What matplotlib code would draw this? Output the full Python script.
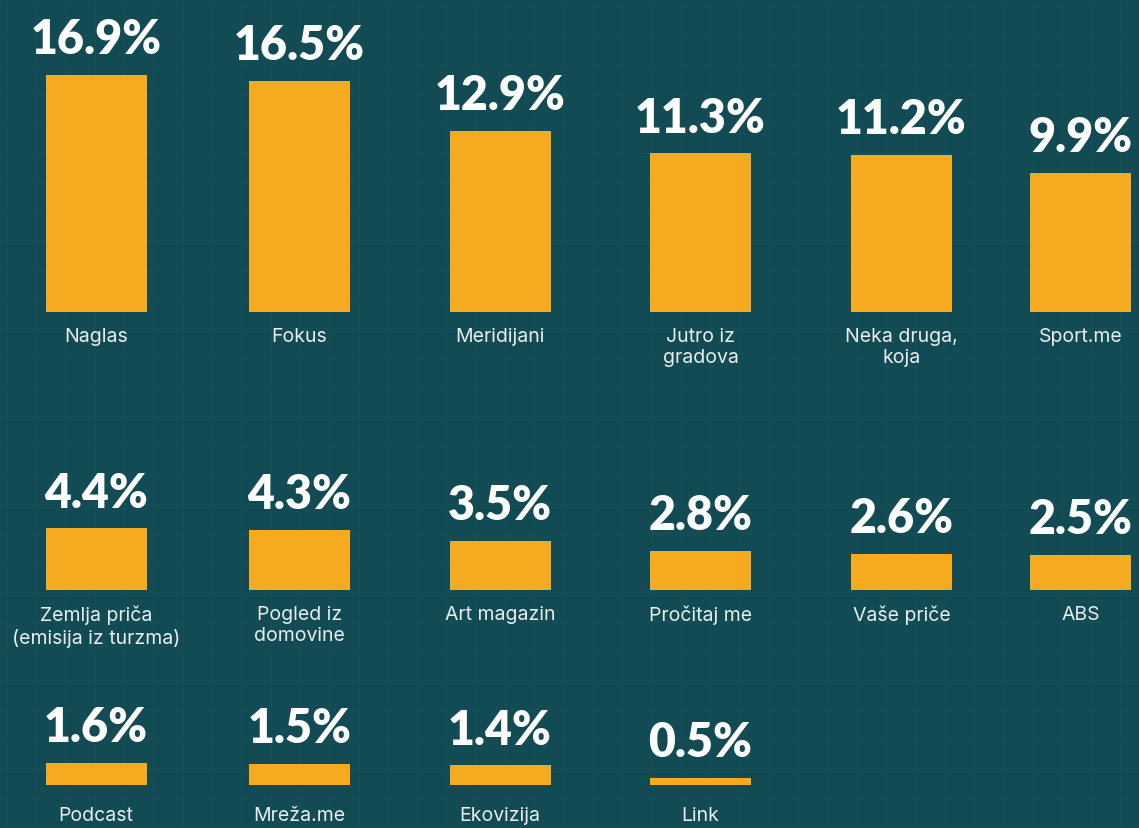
import matplotlib
matplotlib.use("Agg")
import matplotlib.pyplot as plt
import numpy as np

BG = "#124b53"
BAR = "#f5aa1f"
LABEL_COLOR = "#e8eeee"

# data
row1_names = ["Naglas", "Fokus", "Meridijani", "Jutro iz\ngradova", "Neka druga,\nkoja", "Sport.me"]
row1_values = [16.9, 16.5, 12.9, 11.3, 11.2, 9.9]

row2_names = ["Zemlja priča\n(emisija iz turzma)", "Pogled iz\ndomovine", "Art magazin",
              "Pročitaj me", "Vaše priče", "ABS"]
row2_values = [4.4, 4.3, 3.5, 2.8, 2.6, 2.5]

row3_names = ["Podcast", "Mreža.me", "Ekovizija", "Link"]
row3_values = [1.6, 1.5, 1.4, 0.5]

# layout (pixels)
W, H = 1139, 829
col_centers = [96, 299.5, 500, 700.5, 901.5, 1080.5]
bar_w = 101
px_per_pct = 14.0
baselines = [312.5, 591, 786]
label_gaps = [15, 15, 21]

fig = plt.figure(figsize=(W / 100, H / 100), dpi=100)
fig.patch.set_facecolor(BG)

# faint background grid
bg = fig.add_axes([0, 0, 1, 1])
bg.set_xlim(0, W)
bg.set_ylim(H, 0)
bg.set_facecolor(BG)
for gx in np.arange(7, W, 29.3):
    bg.axvline(gx, color="#144e56", lw=0.8, zorder=0)
for gy in np.arange(7, H, 29.3):
    bg.axhline(gy, color="#144e56", lw=0.8, zorder=0)
bg.axis("off")


def draw_row(names, values, base, gap):
    bottom_frac = (H - base) / H
    ax = fig.add_axes([0, bottom_frac, 1, 1 - bottom_frac])
    ax.patch.set_alpha(0)
    ax.set_xlim(0, W)
    ax.set_ylim(0, base / px_per_pct)
    xs = col_centers[:len(values)]
    ax.bar(xs, values, width=bar_w, color=BAR, zorder=2)
    for x, v, n in zip(xs, values, names):
        ax.annotate("{:.1f}%".format(v), (x, v), xytext=(0, 15.5),
                    textcoords="offset points", ha="center", va="baseline",
                    color="white", fontsize=33.5, fontweight="heavy",
                    family=["Lato", "DejaVu Sans"], annotation_clip=False)
        ax.annotate(n, (x, 0), xytext=(0, -gap * 0.72),
                    textcoords="offset points", ha="center", va="top",
                    color=LABEL_COLOR, fontsize=14, family=["Inter", "DejaVu Sans"],
                    linespacing=1.22, annotation_clip=False)
    ax.axis("off")
    return ax


draw_row(row1_names, row1_values, baselines[0], label_gaps[0])
draw_row(row2_names, row2_values, baselines[1], label_gaps[1])
draw_row(row3_names, row3_values, baselines[2], label_gaps[2])

plt.savefig("out.png", dpi=100, facecolor=BG)
